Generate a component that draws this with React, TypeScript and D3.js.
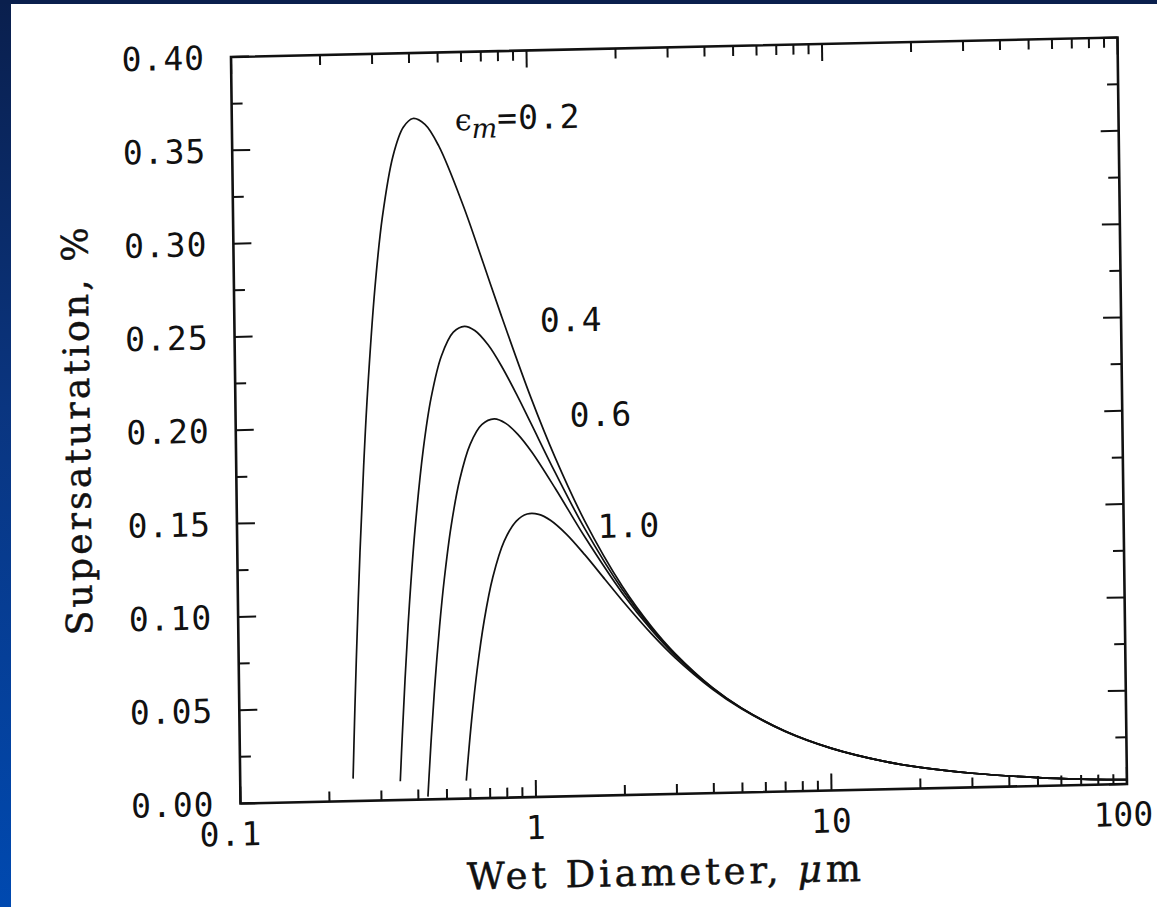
import React from "react";
import * as d3 from "d3";

// ---- data ----
const xMajorTicks = [0.1, 1, 10, 100];
const xTickLabels = ["0.1", "1", "10", "100"];
const yMajorTicks = [0, 0.05, 0.1, 0.15, 0.2, 0.25, 0.3, 0.35, 0.4];
const yTickLabels = ["0.00", "0.05", "0.10", "0.15", "0.20", "0.25", "0.30", "0.35", "0.40"];
const yMinorTicks = [0.025, 0.075, 0.125, 0.175, 0.225, 0.275, 0.325, 0.375];

const seriesNames = ["0.2", "0.4", "0.6", "1.0"];

const diam02 = [0.241, 0.245, 0.25, 0.26, 0.27, 0.28, 0.3, 0.32, 0.35, 0.38, 0.41, 0.45, 0.5, 0.6, 0.7, 0.8, 1.0, 1.2, 1.5, 2, 2.5, 3, 4, 5, 7, 10, 15, 20, 30, 50, 70, 100];
const sat02 = [0.012, 0.0418, 0.0754, 0.1329, 0.1797, 0.218, 0.2748, 0.3124, 0.3452, 0.3603, 0.3649, 0.3616, 0.3499, 0.3181, 0.2864, 0.2584, 0.214, 0.1817, 0.1475, 0.1119, 0.09, 0.0752, 0.0565, 0.0453, 0.0324, 0.0227, 0.0151, 0.0113, 0.0076, 0.0045, 0.0032, 0.0023];

const diam04 = [0.348, 0.355, 0.365, 0.38, 0.4, 0.43, 0.46, 0.5, 0.55, 0.6, 0.65, 0.72, 0.8, 0.9, 1.0, 1.2, 1.5, 2, 2.5, 3, 4, 5, 7, 10, 15, 20, 30, 50, 70, 100];
const sat04 = [0.01, 0.0343, 0.0652, 0.1041, 0.1445, 0.1874, 0.2154, 0.2374, 0.25, 0.253, 0.2506, 0.2428, 0.2309, 0.2151, 0.1999, 0.1735, 0.1433, 0.1101, 0.0891, 0.0747, 0.0563, 0.0452, 0.0324, 0.0227, 0.0151, 0.0113, 0.0076, 0.0045, 0.0032, 0.0023];

const diam06 = [0.431, 0.435, 0.445, 0.46, 0.48, 0.5, 0.53, 0.57, 0.62, 0.68, 0.75, 0.82, 0.9, 1.0, 1.2, 1.5, 2, 2.5, 3, 4, 5, 7, 10, 15, 20, 30, 50, 70, 100];
const sat06 = [0.0015, 0.0109, 0.0329, 0.0615, 0.0927, 0.1176, 0.1459, 0.1711, 0.1897, 0.2001, 0.203, 0.2005, 0.1945, 0.185, 0.1649, 0.1388, 0.1082, 0.0881, 0.0741, 0.0561, 0.0451, 0.0323, 0.0227, 0.0151, 0.0113, 0.0076, 0.0045, 0.0032, 0.0023];

const diam10 = [0.582, 0.59, 0.61, 0.64, 0.68, 0.73, 0.8, 0.88, 0.96, 1.05, 1.15, 1.3, 1.5, 1.75, 2, 2.5, 3, 4, 5, 7, 10, 15, 20, 30, 50, 70, 100];
const sat10 = [0.0096, 0.0195, 0.0417, 0.0686, 0.0953, 0.1182, 0.1373, 0.1479, 0.1517, 0.1514, 0.1481, 0.1405, 0.1291, 0.1157, 0.1041, 0.086, 0.0729, 0.0556, 0.0448, 0.0322, 0.0226, 0.0151, 0.0113, 0.0076, 0.0045, 0.0032, 0.0023];

const seriesDiam = [diam02, diam04, diam06, diam10];
const seriesSat = [sat02, sat04, sat06, sat10];

// ---- layout ----
const WIDTH = 1157;
const HEIGHT = 907;
const W = 886.7;
const H = 746.6;
// affine frame of the scanned plot box
const FRAME = "matrix(0.99976,-0.02199,0.01272,0.99988,231,57)";

const NUM_FONT = "'DejaVu Sans Mono', monospace";
const TITLE_FONT = "'DejaVu Serif', serif";
const SERIF = "'DejaVu Serif', serif";

export default function App() {
  const x = d3.scaleLog().domain([0.1, 100]).range([0, W]);
  const y = d3.scaleLinear().domain([0, 0.4]).range([H, 0]);

  const xMinor = x.ticks().filter((t) => !xMajorTicks.some((m) => Math.abs(m - t) < 1e-9));

  const line = d3
    .line<[number, number]>()
    .x((d) => x(d[0]))
    .y((d) => y(d[1]))
    .curve(d3.curveCatmullRom.alpha(0.5));

  const majorLen = 17;
  const minorLen = 10;
  const yMajorLen = 18;
  const yMinorLen = 11;

  const xLabelShift = [-10, 0, 0, -4];

  return (
    <svg
      width={WIDTH}
      height={HEIGHT}
      style={{ position: "absolute", left: 0, top: 0, display: "block" }}
    >
      <defs>
        <linearGradient id="sideGrad" x1="0" y1="0" x2="0" y2="1">
          <stop offset="0" stopColor="#0a1f4d" />
          <stop offset="0.45" stopColor="#0a3580" />
          <stop offset="1" stopColor="#0049b0" />
        </linearGradient>
      </defs>
      <rect x={0} y={0} width={WIDTH} height={HEIGHT} fill="#ffffff" />
      <rect x={0} y={0} width={11} height={HEIGHT} fill="url(#sideGrad)" />
      <rect x={0} y={0} width={WIDTH} height={4} fill="#0a1f4d" />

      <g transform={FRAME}>
        {/* frame */}
        <rect x={0} y={0} width={W} height={H} fill="none" stroke="#111" strokeWidth={2.6} />

        {/* x ticks bottom & top */}
        {xMajorTicks.map((t) => (
          <g key={"xm" + t}>
            <line x1={x(t)} x2={x(t)} y1={H} y2={H - majorLen} stroke="#111" strokeWidth={2} />
            <line x1={x(t)} x2={x(t)} y1={0} y2={majorLen} stroke="#111" strokeWidth={2} />
          </g>
        ))}
        {xMinor.map((t) => (
          <g key={"xn" + t}>
            <line x1={x(t)} x2={x(t)} y1={H} y2={H - minorLen} stroke="#111" strokeWidth={2} />
            <line x1={x(t)} x2={x(t)} y1={0} y2={minorLen} stroke="#111" strokeWidth={2} />
          </g>
        ))}

        {/* y ticks left & right */}
        {yMajorTicks.map((t) => (
          <g key={"ym" + t}>
            <line x1={0} x2={yMajorLen} y1={y(t)} y2={y(t)} stroke="#111" strokeWidth={2} />
            <line x1={W} x2={W - yMajorLen} y1={y(t)} y2={y(t)} stroke="#111" strokeWidth={2} />
          </g>
        ))}
        {yMinorTicks.map((t) => (
          <g key={"yn" + t}>
            <line x1={0} x2={yMinorLen} y1={y(t)} y2={y(t)} stroke="#111" strokeWidth={2} />
            <line x1={W} x2={W - yMinorLen} y1={y(t)} y2={y(t)} stroke="#111" strokeWidth={2} />
          </g>
        ))}

        {/* tick labels */}
        {yMajorTicks.map((t, i) => (
          <text
            key={"yl" + t}
            x={-26}
            y={y(t)}
            dy="0.36em"
            textAnchor="end"
            fontFamily={NUM_FONT}
            fontSize={33}
            letterSpacing={1}
            fill="#111"
          >
            {yTickLabels[i]}
          </text>
        ))}
        {xMajorTicks.map((t, i) => (
          <text
            key={"xl" + t}
            x={x(t) + xLabelShift[i]}
            y={H + 42}
            textAnchor="middle"
            fontFamily={NUM_FONT}
            fontSize={33}
            letterSpacing={i === 3 ? 0 : 1}
            fill="#111"
          >
            {xTickLabels[i]}
          </text>
        ))}

        {/* curves */}
        {seriesNames.map((name, si) => {
          const pts = seriesDiam[si].map((d, i) => [d, seriesSat[si][i]] as [number, number]);
          return (
            <path
              key={"s" + name}
              d={line(pts) || ""}
              fill="none"
              stroke="#111"
              strokeWidth={1.7}
            />
          );
        })}

        {/* curve labels */}
        <text x={x(0.568)} y={y(0.358)} fill="#111">
          <tspan fontFamily={SERIF} fontSize={30}>ϵ</tspan>
          <tspan fontFamily={SERIF} fontStyle="italic" fontSize={27} dy={8}>m</tspan>
          <tspan fontFamily={NUM_FONT} fontSize={33} dy={-8} letterSpacing={1}>=0.2</tspan>
        </text>
        <text x={x(1.08)} y={y(0.249)} fontFamily={NUM_FONT} fontSize={33} letterSpacing={1} fill="#111">
          {seriesNames[1]}
        </text>
        <text x={x(1.35)} y={y(0.198)} fontFamily={NUM_FONT} fontSize={33} letterSpacing={1} fill="#111">
          {seriesNames[2]}
        </text>
        <text x={x(1.66)} y={y(0.138)} fontFamily={NUM_FONT} fontSize={33} letterSpacing={1} fill="#111">
          {seriesNames[3]}
        </text>

        {/* axis titles */}
        <text
          x={W / 2 - 19}
          y={H + 91}
          textAnchor="middle"
          fontFamily={TITLE_FONT}
          fontSize={37}
          letterSpacing={3.8}
          fill="#111"
          stroke="#111"
          strokeWidth={0.5}
        >
          Wet Diameter,{" "}
          <tspan fontStyle="italic">μ</tspan>
          <tspan>m</tspan>
        </text>
        <text
          transform={`translate(-146, ${y(0.2) - 4}) rotate(-90)`}
          textAnchor="middle"
          fontFamily={TITLE_FONT}
          fontSize={36}
          letterSpacing={3.2}
          fill="#111"
          stroke="#111"
          strokeWidth={0.5}
        >
          Supersaturation, %
        </text>
      </g>
    </svg>
  );
}
